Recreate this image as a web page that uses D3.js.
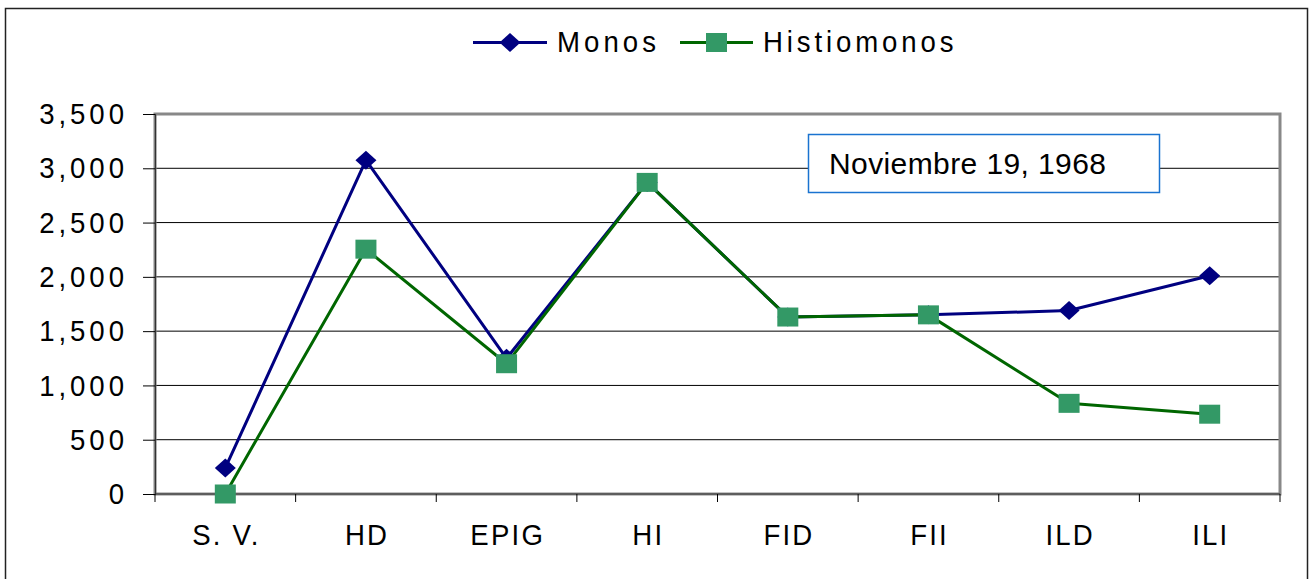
<!DOCTYPE html>
<html>
<head>
<meta charset="utf-8">
<script src="https://cdn.jsdelivr.net/npm/d3@7/dist/d3.min.js"></script>
<style>
  html, body { margin: 0; padding: 0; background: #fff; }
  svg { display: block; }
  text { font-family: "Liberation Sans", Arial, sans-serif; fill: #000; }
</style>
</head>
<body>
<svg id="chart" width="1309" height="579"></svg>
<script>
const categories = ["S. V.", "HD", "EPIG", "HI", "FID", "FII", "ILD", "ILI"];
const monos = [240, 3075, 1250, 2870, 1630, 1650, 1690, 2010];
const histiomonos = [0, 2255, 1200, 2870, 1630, 1650, 835, 735];
const yTicks = [0, 500, 1000, 1500, 2000, 2500, 3000, 3500];
const seriesNames = ["Monos", "Histiomonos"];
const annotation = "Noviembre 19, 1968";

const svg = d3.select("#chart");
const W = 1309, H = 579;
const plot = { left: 155, right: 1280, top: 114, bottom: 494 };
const SX = 0.92;

svg.append("rect").attr("x", 0).attr("y", 0).attr("width", W).attr("height", H).attr("fill", "#fff");
// outer chart border
svg.append("rect").attr("x", 5.5).attr("y", 8.5).attr("width", 1302).attr("height", 620)
  .attr("fill", "none").attr("stroke", "#222").attr("stroke-width", 1.5);

const x = d3.scaleBand().domain(categories).range([plot.left, plot.right]).padding(0);
const y = d3.scaleLinear().domain([0, 3500]).range([plot.bottom, plot.top]);
const cx = c => x(c) + x.bandwidth() / 2;

// gridlines
svg.append("g").selectAll("line").data(yTicks.filter(t => t > 0 && t < 3500)).join("line")
  .attr("x1", plot.left).attr("x2", plot.right)
  .attr("y1", d => y(d)).attr("y2", d => y(d))
  .attr("stroke", "#000").attr("stroke-width", 1);

// plot area border
svg.append("rect").attr("x", plot.left).attr("y", plot.top)
  .attr("width", plot.right - plot.left).attr("height", plot.bottom - plot.top)
  .attr("fill", "none").attr("stroke", "#888").attr("stroke-width", 3);

// Y axis
const yAxis = d3.axisLeft(y).tickValues(yTicks).tickSize(12).tickPadding(19).tickFormat(d3.format(","));
const gy = svg.append("g").attr("transform", `translate(${plot.left},0)`).call(yAxis);
gy.select(".domain").attr("stroke", "#333").attr("stroke-width", 1.2);
gy.selectAll(".tick line").attr("stroke", "#000");
gy.selectAll(".tick text")
  .attr("x", 0)
  .attr("transform", `translate(${-31 + 4.3 * SX},0) scale(${SX},1)`)
  .attr("font-size", 30).attr("letter-spacing", 4.3)
  .attr("font-family", '"Liberation Sans", Arial, sans-serif').attr("fill", "#000");

// X axis line and ticks at category boundaries
svg.append("line").attr("x1", plot.left).attr("x2", plot.right)
  .attr("y1", plot.bottom).attr("y2", plot.bottom).attr("stroke", "#333").attr("stroke-width", 1.2);
const bounds = categories.map(c => x(c)).concat([x.range()[1]]);
svg.append("g").selectAll("line").data(bounds).join("line")
  .attr("x1", d => d).attr("x2", d => d)
  .attr("y1", plot.bottom).attr("y2", plot.bottom + 8)
  .attr("stroke", "#000").attr("stroke-width", 1);
svg.append("g").selectAll("text").data(categories).join("text")
  .attr("transform", d => `translate(${cx(d) + 1.2 * SX},545) scale(${SX},1)`)
  .attr("text-anchor", "middle").attr("font-size", 30).attr("letter-spacing", 2.4)
  .text(d => d);

// lines
const lineGen = vals => d3.line().x((d, i) => cx(categories[i])).y(d => y(d))(vals);
svg.append("path").attr("d", lineGen(monos)).attr("fill", "none")
  .attr("stroke", "#000080").attr("stroke-width", 3).attr("stroke-linejoin", "round");
svg.append("path").attr("d", lineGen(histiomonos)).attr("fill", "none")
  .attr("stroke", "#006600").attr("stroke-width", 3).attr("stroke-linejoin", "round");

// markers
const diamond = (px, py) => `M${px},${py - 9.5}L${px + 10.5},${py}L${px},${py + 9.5}L${px - 10.5},${py}Z`;
svg.append("g").selectAll("path").data(monos).join("path")
  .attr("d", (d, i) => diamond(cx(categories[i]), y(d)))
  .attr("fill", "#000080");
svg.append("g").selectAll("rect").data(histiomonos).join("rect")
  .attr("x", (d, i) => cx(categories[i]) - 10.5).attr("y", d => y(d) - 9.5)
  .attr("width", 21).attr("height", 19)
  .attr("fill", "#339966");

// annotation box
svg.append("rect").attr("x", 808.5).attr("y", 134.5).attr("width", 351).attr("height", 58)
  .attr("fill", "#fff").attr("stroke", "#1a73d0").attr("stroke-width", 1.5);
svg.append("text").attr("x", 829).attr("y", 174).attr("font-size", 30).attr("letter-spacing", 0.4)
  .text(annotation);

// legend
const lg = svg.append("g");
lg.append("line").attr("x1", 473).attr("x2", 547).attr("y1", 42.5).attr("y2", 42.5)
  .attr("stroke", "#000080").attr("stroke-width", 3);
lg.append("path").attr("d", diamond(510, 42.5)).attr("fill", "#000080");
lg.append("text").attr("transform", `translate(557,51.5) scale(${SX},1)`)
  .attr("font-size", 30).attr("letter-spacing", 4.4).text(seriesNames[0]);
lg.append("line").attr("x1", 680).attr("x2", 753).attr("y1", 42.5).attr("y2", 42.5)
  .attr("stroke", "#006600").attr("stroke-width", 3);
lg.append("rect").attr("x", 706).attr("y", 33).attr("width", 21).attr("height", 19).attr("fill", "#339966");
lg.append("text").attr("transform", `translate(763,51.5) scale(${SX},1)`)
  .attr("font-size", 30).attr("letter-spacing", 4.2).text(seriesNames[1]);
</script>
</body>
</html>
